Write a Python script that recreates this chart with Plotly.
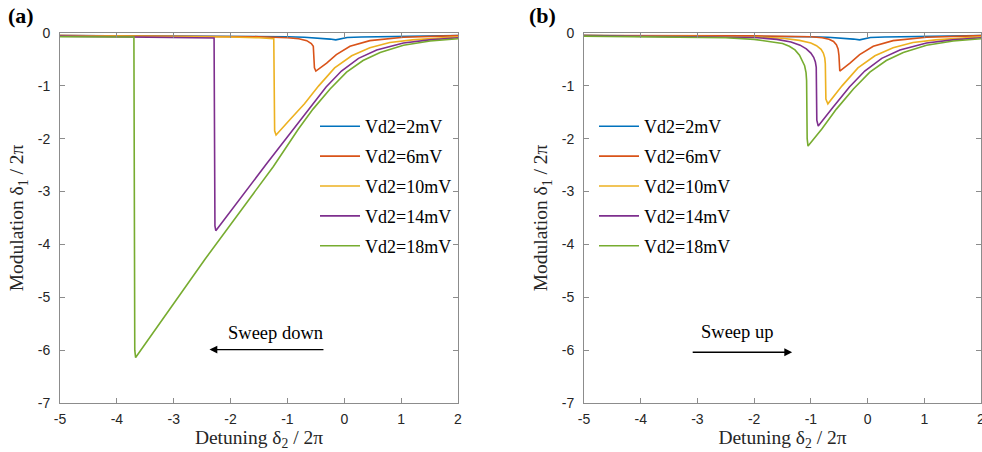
import plotly.graph_objects as go

W, H = 982, 452
TOP, BOTTOM = 33, 49          # figure margins around the plotting band
PLOT_H = H - TOP - BOTTOM

# ---- Sweep down (panel a): detuning delta2/2pi and modulation delta1/2pi ----
down_x_2mV = [-5, -3, -2, -1.5, -1.0, -0.7, -0.45, -0.25, -0.15, -0.05, 0.05, 0.3, 0.8, 1.5, 2]
down_y_2mV = [-0.05, -0.055, -0.058, -0.062, -0.07, -0.08, -0.095, -0.115, -0.13, -0.11, -0.085, -0.075, -0.065, -0.055, -0.05]

down_x_6mV = [-5, -3, -2, -1.5, -1.0, -0.8, -0.66, -0.58, -0.545, -0.525, -0.50, -0.31, -0.14, 0.10, 0.45, 1.04, 2]
down_y_6mV = [-0.05, -0.055, -0.06, -0.07, -0.09, -0.11, -0.145, -0.2, -0.25, -0.66, -0.72, -0.57, -0.41, -0.25, -0.145, -0.08, -0.05]

down_x_10mV = [-5, -3, -2, -1.5, -1.24, -1.225, -1.20, -0.95, -0.70, -0.45, -0.17, 0.13, 0.45, 0.8, 1.2, 2]
down_y_10mV = [-0.05, -0.06, -0.075, -0.09, -0.11, -1.85, -1.93, -1.63, -1.34, -1.0, -0.66, -0.43, -0.28, -0.18, -0.13, -0.07]

down_x_14mV = [-5, -4, -3, -2.29, -2.275, -2.26, -1.37, -0.87, -0.62, -0.32, -0.05, 0.25, 0.57, 1.04, 1.5, 2]
down_y_14mV = [-0.06, -0.07, -0.08, -0.095, -3.65, -3.74, -2.48, -1.78, -1.42, -1.02, -0.72, -0.48, -0.32, -0.19, -0.13, -0.09]

down_x_18mV = [-5, -4.5, -4, -3.70, -3.685, -3.67, -2.45, -1.25, -0.81, -0.55, -0.25, 0.04, 0.33, 0.63, 1.04, 1.51, 2]
down_y_18mV = [-0.07, -0.072, -0.074, -0.076, -6.0, -6.14, -4.28, -2.53, -1.82, -1.44, -1.06, -0.74, -0.52, -0.37, -0.23, -0.15, -0.11]

# ---- Sweep up (panel b) ----
up_x_2mV = [-5, -3, -2, -1.5, -1.0, -0.7, -0.45, -0.25, -0.14, -0.05, 0.05, 0.3, 0.8, 1.5, 2]
up_y_2mV = [-0.05, -0.055, -0.058, -0.062, -0.07, -0.08, -0.095, -0.115, -0.13, -0.11, -0.085, -0.075, -0.065, -0.055, -0.05]

up_x_6mV = [-5, -3, -2, -1.0, -0.8, -0.68, -0.60, -0.55, -0.52, -0.505, -0.495, -0.49, -0.31, -0.14, 0.10, 0.45, 1.04, 2]
up_y_6mV = [-0.05, -0.052, -0.055, -0.07, -0.09, -0.12, -0.16, -0.22, -0.30, -0.42, -0.66, -0.72, -0.57, -0.41, -0.25, -0.145, -0.08, -0.05]

up_x_10mV = [-5, -3, -2, -1.5, -1.2, -1.0, -0.9, -0.82, -0.78, -0.755, -0.745, -0.735, -0.70, -0.45, -0.17, 0.13, 0.45, 0.8, 1.2, 2]
up_y_10mV = [-0.05, -0.06, -0.075, -0.10, -0.14, -0.19, -0.24, -0.31, -0.38, -0.47, -0.58, -1.25, -1.34, -1.0, -0.66, -0.43, -0.28, -0.18, -0.13, -0.07]

up_x_14mV = [-5, -3, -2, -1.6, -1.35, -1.19, -1.08, -1.0, -0.95, -0.92, -0.905, -0.895, -0.87, -0.62, -0.32, -0.05, 0.25, 0.57, 1.04, 1.5, 2]
up_y_14mV = [-0.05, -0.065, -0.085, -0.12, -0.17, -0.23, -0.30, -0.38, -0.46, -0.55, -0.65, -1.65, -1.76, -1.42, -1.02, -0.72, -0.48, -0.32, -0.19, -0.13, -0.09]

up_x_18mV = [-5, -3, -2.5, -2.0, -1.7, -1.5, -1.38, -1.28, -1.2, -1.15, -1.11, -1.085, -1.075, -1.065, -1.05, -0.81, -0.55, -0.25, 0.04, 0.33, 0.63, 1.04, 1.51, 2]
up_y_18mV = [-0.06, -0.075, -0.09, -0.12, -0.16, -0.20, -0.25, -0.32, -0.42, -0.52, -0.62, -0.75, -0.9, -2.0, -2.14, -1.82, -1.44, -1.06, -0.74, -0.52, -0.37, -0.23, -0.15, -0.11]

series_names = ["Vd2=2mV", "Vd2=6mV", "Vd2=10mV", "Vd2=14mV", "Vd2=18mV"]
series_colors = ["#0072BD", "#D95319", "#EDB120", "#7E2F8E", "#77AC30"]

x_ticks = [-5, -4, -3, -2, -1, 0, 1, 2]
x_tick_text = ["-5", "-4", "-3", "-2", "-1", "0", "1", "2"]
y_ticks = [-7, -6, -5, -4, -3, -2, -1, 0]
y_tick_text = ["-7", "-6", "-5", "-4", "-3", "-2", "-1", "0"]

down_sets = [(down_x_2mV, down_y_2mV), (down_x_6mV, down_y_6mV), (down_x_10mV, down_y_10mV),
             (down_x_14mV, down_y_14mV), (down_x_18mV, down_y_18mV)]
up_sets = [(up_x_2mV, up_y_2mV), (up_x_6mV, up_y_6mV), (up_x_10mV, up_y_10mV),
           (up_x_14mV, up_y_14mV), (up_x_18mV, up_y_18mV)]

fig = go.Figure()

for i, ((xs, ys), name, col) in enumerate(zip(down_sets, series_names, series_colors)):
    fig.add_trace(go.Scatter(x=xs, y=ys, mode="lines", name=name,
                             line=dict(color=col, width=1.6),
                             xaxis="x", yaxis="y", legend="legend",
                             legendgroup="a%d" % i))
for i, ((xs, ys), name, col) in enumerate(zip(up_sets, series_names, series_colors)):
    fig.add_trace(go.Scatter(x=xs, y=ys, mode="lines", name=name,
                             line=dict(color=col, width=1.6),
                             xaxis="x2", yaxis="y2", legend="legend2",
                             legendgroup="b%d" % i))

axis_col = "#8c8c8c"
tick_font = dict(family="Liberation Sans, Arial, sans-serif", size=14, color="#262626")
title_font = dict(family="Liberation Serif, Times New Roman, serif", size=19.5, color="#262626")


def x_axis(domain, anchor):
    return dict(domain=domain, anchor=anchor, range=[-5, 2], tickvals=x_ticks, ticktext=x_tick_text,
                showline=True, mirror="ticks", linecolor=axis_col, linewidth=1,
                ticks="inside", ticklen=5, tickcolor=axis_col, showgrid=False, zeroline=False,
                tickfont=tick_font, ticklabelstandoff=3, automargin=False,
                ticklabeloverflow="allow",
                title=dict(text="Detuning δ<sub>2</sub> / 2π", font=title_font, standoff=4))


def y_axis(domain, anchor):
    return dict(domain=domain, anchor=anchor, range=[-7, 0], tickvals=y_ticks, ticktext=y_tick_text,
                showline=True, mirror="ticks", linecolor=axis_col, linewidth=1,
                ticks="inside", ticklen=5, tickcolor=axis_col, showgrid=False, zeroline=False,
                tickfont=tick_font, ticklabelstandoff=6, automargin=False,
                ticklabeloverflow="allow",
                title=dict(text="Modulation δ<sub>1</sub> / 2π", font=title_font, standoff=8))


def py_to_paper(py):
    return 1 - (py - TOP) / PLOT_H


xa_dom = [60 / W, 458 / W]
xb_dom = [584 / W, 981 / W]

legend_font = dict(family="Liberation Serif, Times New Roman, serif", size=18, color="#000000")

fig.update_layout(
    width=W, height=H,
    margin=dict(l=0, r=0, t=TOP, b=BOTTOM, autoexpand=False),
    paper_bgcolor="white", plot_bgcolor="white",
    xaxis=x_axis(xa_dom, "y"),
    yaxis=y_axis([0, 1], "x"),
    xaxis2=x_axis(xb_dom, "y2"),
    yaxis2=y_axis([0, 1], "x2"),
    legend=dict(x=315 / W, y=py_to_paper(108), xanchor="left", yanchor="top",
                bgcolor="rgba(0,0,0,0)", font=legend_font, tracegroupgap=3.5,
                traceorder="grouped", itemwidth=40),
    legend2=dict(x=594 / W, y=py_to_paper(108), xanchor="left", yanchor="top",
                 bgcolor="rgba(0,0,0,0)", font=legend_font, tracegroupgap=3.5,
                 traceorder="grouped", itemwidth=40),
    showlegend=True,
)

panel_font = dict(family="Liberation Serif, Times New Roman, serif", size=22, color="#000000")
note_font = dict(family="Liberation Serif, Times New Roman, serif", size=18.5, color="#000000")

annotations = [
    dict(text="<b>(a)</b>", x=6 / W, y=py_to_paper(1), xref="paper", yref="paper",
         xanchor="left", yanchor="top", showarrow=False, font=panel_font),
    dict(text="<b>(b)</b>", x=527 / W, y=py_to_paper(1), xref="paper", yref="paper",
         xanchor="left", yanchor="top", showarrow=False, font=panel_font),
    dict(text="Sweep down", x=-1.21, y=-5.67, xref="x", yref="y", showarrow=False, font=note_font),
    dict(text="", x=-2.37, y=-5.99, ax=-0.34, ay=-5.99, xref="x", yref="y", axref="x", ayref="y",
         showarrow=True, arrowhead=2, arrowsize=1.2, arrowwidth=1.3, arrowcolor="#000000"),
    dict(text="Sweep up", x=-2.31, y=-5.65, xref="x2", yref="y2", showarrow=False, font=note_font),
    dict(text="", x=-1.33, y=-6.04, ax=-3.11, ay=-6.04, xref="x2", yref="y2", axref="x2", ayref="y2",
         showarrow=True, arrowhead=2, arrowsize=1.2, arrowwidth=1.3, arrowcolor="#000000"),
]
fig.update_layout(annotations=annotations)

fig.write_html("out.html")
